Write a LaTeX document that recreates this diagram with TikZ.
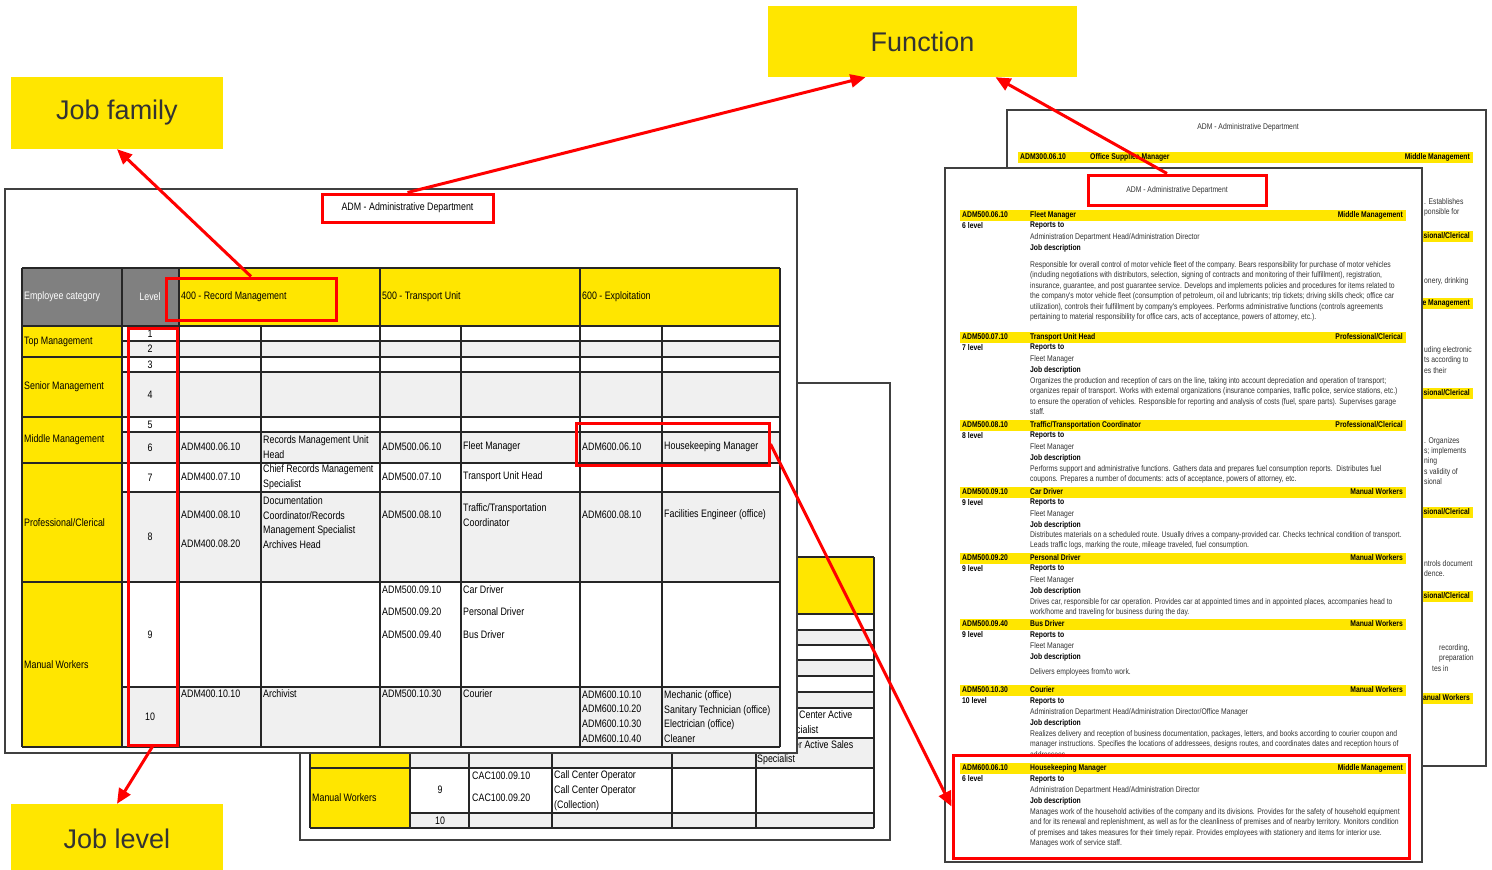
\documentclass[tikz,border=0pt]{standalone}
\usepackage{fontspec}
\setmainfont{Liberation Sans}
\newfontfamily\narrowfont[FakeStretch=0.82]{Liberation Sans}
\newfontfamily\calloutfont{Liberation Sans}
\usetikzlibrary{arrows.meta}
\definecolor{eyyellow}{HTML}{FFE600}
\definecolor{rowgray}{HTML}{F0F0F0}
\definecolor{headgray}{HTML}{808080}
\definecolor{calltext}{HTML}{333333}
\definecolor{markred}{HTML}{FF0000}
\newcommand{\tabfont}{\narrowfont\fontsize{10.8}{14.6}\selectfont}
\newcommand{\docfont}{\narrowfont\fontsize{8.3}{10.45}\selectfont}

\tikzset{
	page/.style={draw=black!75,line width=1.3pt,fill=white},
	grid/.style={draw=black!85,line width=1.1pt},
	cell/.style={font=\tabfont,inner sep=0pt,anchor=west,align=left},
	doc/.style={font=\docfont,text=black!80,inner sep=0pt,anchor=west,align=left},
	docb/.style={doc,font=\docfont\bfseries,text=black},
	redbox/.style={draw=markred,line width=3pt,inner sep=0pt},
	callout/.style={fill=eyyellow,text=calltext,font=\calloutfont\fontsize{27}{30}\selectfont,minimum width=212pt,minimum height=72pt,inner sep=0pt},
	pointer/.style={draw=markred,line width=3pt,-{Triangle[length=15pt,width=13pt]}},
}

\begin{document}
\begin{tikzpicture}[x=1pt,y=-1pt]
	\useasboundingbox (0,0) rectangle (1492,870);
	\fill[white] (0,0) rectangle (1492,870);

	\draw[page] (1007,110) rectangle (1486,766);
	\node[doc,anchor=center] (bttl) at (1248,127) {ADM - Administrative Department};
	\foreach \y/\ecat [count=\i] in {157/Middle Management,236/{Professional/Clerical},303/Middle Management,393/{Professional/Clerical},512/{Professional/Clerical},596/{Professional/Clerical},698/Manual Workers}{
		\fill[eyyellow] (1018,\y-5.5) rectangle (1473,\y+5.5);
		\node[docb,anchor=east] (bk\i) at (1470,\y) {\ecat};
	}
	\node[docb] (bcode) at (1020,157) {ADM300.06.10};
	\node[docb] (bjob) at (1090,157) {Office Supplies Manager};
	\node[doc] (bf1) at (1424,207.5) {. Establishes\\ponsible for};
	\node[doc] (bf2) at (1424,281) {onery, drinking};
	\node[doc] (bf3) at (1424,360) {uding electronic\\ts according to\\es their};
	\node[doc] (bf4) at (1424,461) {. Organizes\\s; implements\\ning\\s validity of\\sional};
	\node[doc] (bf5) at (1424,568.5) {ntrols document\\dence.};
	\node[doc] (bf6) at (1439,653.5) {recording,\\preparation};
	\node[doc] (bf7) at (1432,669) {tes in};

	\draw[page] (945,168) rectangle (1422,862);
	\node[redbox,font=\docfont,text=black!80,minimum width=178pt,minimum height=30pt] (rttl) at (1177,190) {ADM - Administrative Department};
	\foreach \y/\ecode/\ejob/\ecat/\elev/\erep [count=\i] in {
		215/ADM500.06.10/Fleet Manager/Middle Management/6/{Administration Department Head/Administration Director},
		337/ADM500.07.10/Transport Unit Head/{Professional/Clerical}/7/Fleet Manager,
		425/ADM500.08.10/{Traffic/Transportation Coordinator}/{Professional/Clerical}/8/Fleet Manager,
		492/ADM500.09.10/Car Driver/Manual Workers/9/Fleet Manager,
		558/ADM500.09.20/Personal Driver/Manual Workers/9/Fleet Manager,
		624/ADM500.09.40/Bus Driver/Manual Workers/9/Fleet Manager,
		690/ADM500.10.30/Courier/Manual Workers/10/{Administration Department Head/Administration Director/Office Manager},
		768/ADM600.06.10/Housekeeping Manager/Middle Management/6/{Administration Department Head/Administration Director}}{
		\fill[eyyellow] (960,\y-5.5) rectangle (1406,\y+5.5);
		\node[docb] (ec\i) at (962,\y) {\ecode};
		\node[docb] (ej\i) at (1030,\y) {\ejob};
		\node[docb,anchor=east] (ek\i) at (1403,\y) {\ecat};
		\node[docb] (el\i) at (962,\y+11) {\elev{} level};
		\node[docb] (er\i) at (1030,\y+11) {Reports to};
		\node[doc] (eo\i) at (1030,\y+22) {\erep};
		\node[docb] (ed\i) at (1030,\y+33) {Job description};
	}
	\node[doc,anchor=north west] (p1) at (1030,261) {Responsible for overall control of motor vehicle fleet of the company. Bears responsibility for purchase of motor vehicles\\(including negotiations with distributors, selection, signing of contracts and monitoring of their fulfillment), registration,\\insurance, guarantee, and post guarantee service. Develops and implements policies and procedures for items related to\\the company's motor vehicle fleet (consumption of petroleum, oil and lubricants; trip tickets; driving skills check; office car\\utilization), controls their fulfillment by company's employees. Performs administrative functions (controls agreements\\pertaining to material responsibility for office cars, acts of acceptance, powers of attorney, etc.).};
	\node[doc,anchor=north west] (p2) at (1030,377) {Organizes the production and reception of cars on the line, taking into account depreciation and operation of transport;\\organizes repair of transport. Works with external organizations (insurance companies, traffic police, service stations, etc.)\\to ensure the operation of vehicles. Responsible for reporting and analysis of costs (fuel, spare parts). Supervises garage\\staff.};
	\node[doc,anchor=north west] (p3) at (1030,465) {Performs support and administrative functions. Gathers data and prepares fuel consumption reports.\ \ Distributes fuel\\coupons. Prepares a number of documents: acts of acceptance, powers of attorney, etc.};
	\node[doc,anchor=north west] (p4) at (1030,531) {Distributes materials on a scheduled route. Usually drives a company-provided car. Checks technical condition of transport.\\Leads traffic logs, marking the route, mileage traveled, fuel consumption.};
	\node[doc,anchor=north west] (p5) at (1030,598) {Drives car, responsible for car operation. Provides car at appointed times and in appointed places, accompanies head to\\work/home and traveling for business during the day.};
	\node[doc,anchor=north west] (p6) at (1030,668) {Delivers employees from/to work.};
	\node[doc,anchor=north west] (p7) at (1030,730) {Realizes delivery and reception of business documentation, packages, letters, and books according to courier coupon and\\manager instructions. Specifies the locations of addressees, designs routes, and coordinates dates and reception hours of\\addressees.};
	\node[doc,anchor=north west] (p8) at (1030,808) {Manages work of the household activities of the company and its divisions. Provides for the safety of household equipment\\and for its renewal and replenishment, as well as for the cleanliness of premises and of nearby territory. Monitors condition\\of premises and takes measures for their timely repair. Provides employees with stationery and items for interior use.\\Manages work of service staff.};
	\node[redbox,minimum width=456pt,minimum height=103pt] (rhk) at (1181,806.5) {};

	\draw[page] (300,383) rectangle (890,840);
	\fill[headgray] (310,557) rectangle (469,614);
	\fill[eyyellow] (469,557) rectangle (874,614);
	\fill[eyyellow] (310,614) rectangle (410,828);
	\foreach \a/\b/\f in {614/630/white,630/645/rowgray,645/660/white,660/676/rowgray,676/692/white,692/708/rowgray,708/738/white,738/768/rowgray,768/813/white,813/828/rowgray}
		\fill[\f] (410,\a) rectangle (874,\b);
	\foreach \y in {614,630,645,660,676,692,708,738,768,813,828}
		\draw[grid] (410,\y) -- (874,\y);
	\foreach \y in {557,614,645,676,708,768,828}
		\draw[grid] (310,\y) -- (410,\y);
	\draw[grid] (410,557) -- (874,557);
	\foreach \x in {310,410,469,672,874}
		\draw[grid] (\x,557) -- (\x,828);
	\foreach \x in {552,756}
		\draw[grid] (\x,614) -- (\x,828);
	\node[cell] (bt1) at (799,715) {Center Active};
	\node[cell] (bt2) at (796,730) {cialist};
	\node[cell] (bt3) at (794,745) {er Active Sales};
	\node[cell] (bt4) at (757,760) {Specialist};
	\node[cell,anchor=center] (bt5) at (440,749) {8};
	\node[cell] (bt6) at (472,749) {CAC100.08.10};
	\node[cell] (bt7) at (554,749) {Senior Call Center Operator};
	\node[cell] (bt8) at (674,749) {CAC110.08.10};
	\node[cell] (bt9) at (312,798) {Manual Workers};
	\node[cell,anchor=center] (bt10) at (440,790) {9};
	\node[cell,anchor=center] (bt11) at (440,821) {10};
	\node[cell] (bt12) at (472,776) {CAC100.09.10};
	\node[cell] (bt13) at (472,798) {CAC100.09.20};
	\node[cell] (bt14) at (554,776) {Call Center Operator};
	\node[cell] (bt15) at (554,798) {Call Center Operator\\(Collection)};

	\draw[page] (5,189) rectangle (797,753);
	\node[redbox,font=\tabfont,minimum width=171pt,minimum height=28pt] (ttl) at (407.5,208) {ADM - Administrative Department};
	\fill[headgray] (22,268) rectangle (179,326);
	\fill[eyyellow] (179,268) rectangle (780,326);
	\fill[eyyellow] (22,326) rectangle (122,747);
	\foreach \a/\b/\f in {326/341/white,341/357/rowgray,357/372/white,372/417/rowgray,417/432/white,432/463/rowgray,463/492/white,492/582/rowgray,582/687/white,687/747/rowgray}
		\fill[\f] (122,\a) rectangle (780,\b);
	\foreach \y in {326,341,357,372,417,432,463,492,582,687,747}
		\draw[grid] (122,\y) -- (780,\y);
	\foreach \y in {268,326,357,417,463,582,747}
		\draw[grid] (22,\y) -- (122,\y);
	\draw[grid] (122,268) -- (780,268);
	\foreach \x in {22,122,179,380,580,780}
		\draw[grid] (\x,268) -- (\x,747);
	\foreach \x in {261,461,662}
		\draw[grid] (\x,326) -- (\x,747);
	\node[cell,text=white] (hcat) at (24,297) {Employee category};
	\node[cell,text=white,anchor=center] (hlev) at (150,297) {Level};
	\foreach \x/\t [count=\i] in {181/400 - Record Management,382/500 - Transport Unit,582/600 - Exploitation}
		\node[cell] (hf\i) at (\x,297) {\t};
	\foreach \y/\t [count=\i] in {341.5/Top Management,387/Senior Management,440/Middle Management,522.5/{Professional/Clerical},664.5/Manual Workers}
		\node[cell] (cat\i) at (24,\y) {\t};
	\foreach \y [count=\i] in {333.5,349,364.5,394.5,424.5,447.5,477.5,537,634.5,717}
		\node[cell,anchor=center] (lv\i) at (150,\y) {\i};
	\foreach \x/\y/\t [count=\i] in {
		181/447/ADM400.06.10, 263/447/{Records Management Unit\\Head}, 382/447/ADM500.06.10, 463/447/Fleet Manager, 582/447/ADM600.06.10, 664/447/Housekeeping Manager,
		181/477/ADM400.07.10, 263/477/{Chief Records Management\\Specialist}, 382/477/ADM500.07.10, 463/477/Transport Unit Head,
		181/515/ADM400.08.10, 181/544/ADM400.08.20, 263/522.5/{Documentation\\Coordinator/Records\\Management Specialist\\Archives Head},
		382/515/ADM500.08.10, 463/515/{Traffic/Transportation\\Coordinator}, 582/515/ADM600.08.10, 664/515/Facilities Engineer (office),
		382/590/ADM500.09.10, 382/612/ADM500.09.20, 382/635/ADM500.09.40, 463/590/Car Driver, 463/612/Personal Driver, 463/635/Bus Driver,
		181/694/ADM400.10.10, 263/694/Archivist, 382/694/ADM500.10.30, 463/694/Courier,
		582/716.5/{ADM600.10.10\\ADM600.10.20\\ADM600.10.30\\ADM600.10.40}, 664/716.5/{Mechanic (office)\\Sanitary Technician (office)\\Electrician (office)\\Cleaner}}
		\node[cell] (c\i) at (\x,\y) {\t};
	\node[redbox,minimum width=170pt,minimum height=42pt] (recbox) at (251,299) {};
	\node[redbox,minimum width=49pt,minimum height=417pt] (lvlbox) at (152.5,536.5) {};
	\node[redbox,minimum width=193pt,minimum height=42pt] (hkbox) at (672.5,444) {};

	\node[callout] (family) at (117,113) {Job family};
	\node[callout,minimum width=309pt,minimum height=71pt] (func) at (922.5,41.5) {Function};
	\node[callout,minimum height=70pt] (lvl) at (117,839) {Job level};

	\draw[pointer] (recbox.north) -- (family.south);
	\draw[pointer] (ttl.north) -- ([xshift=-57pt]func.south);
	\draw[pointer] ([xshift=-10pt]rttl.north) -- ([xshift=73pt]func.south);
	\draw[pointer] (lvlbox.south) -- (lvl.north);
	\draw[pointer] (hkbox.east) -- (rhk.west);
\end{tikzpicture}
\end{document}
